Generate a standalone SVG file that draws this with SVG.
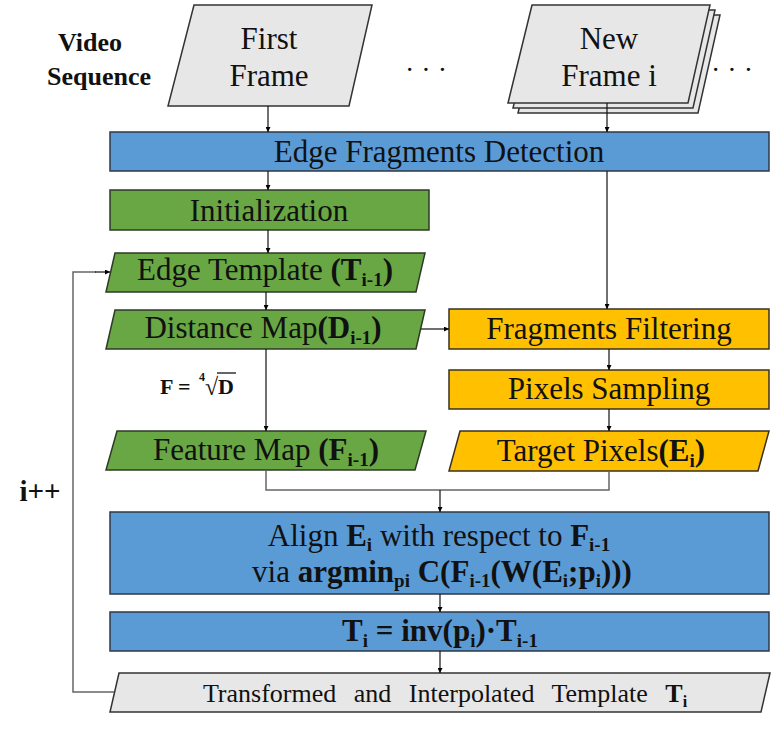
<svg xmlns="http://www.w3.org/2000/svg" width="777" height="733" viewBox="0 0 777 733">
<defs>
<marker id="ah" viewBox="0 0 10 10" refX="10" refY="5" markerWidth="5" markerHeight="5" orient="auto" markerUnits="userSpaceOnUse">
<path d="M0,0 L10,5 L0,10 z" fill="#000"/>
</marker>
<style>
text{fill:#111;font-family:'Liberation Serif',serif;}
.t{font-size:31px;text-anchor:middle;}
.b{font-weight:bold;}
.sub{font-size:19px;font-weight:bold;}
.blue{fill:#5B9BD5;stroke:#2E3A46;stroke-width:1.5;}
.green{fill:#68A744;stroke:#2E3A26;stroke-width:1.5;}
.orange{fill:#FFC000;stroke:#3A3020;stroke-width:1.5;}
.gray{fill:#E7E7E7;stroke:#333;stroke-width:1.5;}
.c{fill:none;stroke:#111;stroke-width:1.2;}
.cg{fill:none;stroke:#666;stroke-width:1.5;}
</style>
</defs>
<rect width="777" height="733" fill="#fff"/>

<g id="label-video">
<text x="90" y="51" class="b" style="font-size:26px;text-anchor:middle">Video</text>
<text x="99" y="85" class="b" style="font-size:26px;text-anchor:middle">Sequence</text>
</g>

<g id="first-frame">
<polygon class="gray" points="194,5 372,5 349,106 168,106"/>
<text x="269" y="49" class="t">First</text>
<text x="269" y="86" class="t">Frame</text>
</g>

<g id="dots">
<text x="426" y="79" class="t" style="font-size:28px">· · ·</text>
<text x="732" y="79" class="t" style="font-size:28px">· · ·</text>
</g>

<g id="new-frame">
<polygon class="gray" points="542,15 720,15 698,113 518,113"/>
<polygon class="gray" points="537,10 715,10 693,108 513,108"/>
<polygon class="gray" points="532,5 710,5 688,103 508,103"/>
<text x="609" y="49" class="t">New</text>
<text x="609" y="86" class="t">Frame i</text>
</g>

<g id="edge-fragments-detection">
<rect class="blue" x="110" y="132" width="659" height="39"/>
<text x="439" y="162" class="t">Edge Fragments Detection</text>
</g>

<g id="initialization">
<rect class="green" x="110" y="190" width="319" height="40"/>
<text x="269" y="221" class="t">Initialization</text>
</g>

<g id="edge-template">
<polygon class="green" points="115,253 425,253 416,292 106,292"/>
<text x="265" y="280" class="t">Edge Template <tspan class="b">(T</tspan><tspan class="sub" dy="6">i-1</tspan><tspan class="b" dy="-6">)</tspan></text>
</g>

<g id="distance-map">
<polygon class="green" points="115,310 425,310 416,349 106,349"/>
<text x="263" y="338" class="t">Distance Map<tspan class="b">(D</tspan><tspan class="sub" dy="6">i-1</tspan><tspan class="b" dy="-6">)</tspan></text>
</g>

<g id="fragments-filtering">
<rect class="orange" x="449" y="309" width="320" height="40"/>
<text x="609" y="339" class="t">Fragments Filtering</text>
</g>

<g id="pixels-sampling">
<rect class="orange" x="449" y="370" width="320" height="39"/>
<text x="609" y="399" class="t">Pixels Sampling</text>
</g>

<g id="formula">
<text x="160" y="394" class="b" style="font-size:22px">F =</text>
<text x="199" y="381" class="b" style="font-size:12px">4</text>
<text x="205" y="395" style="font-size:24px">√</text>
<line x1="217" y1="373" x2="236" y2="373" stroke="#111" stroke-width="1.3"/>
<text x="218" y="394" class="b" style="font-size:22px">D</text>
</g>

<g id="feature-map">
<polygon class="green" points="117,431 426,431 415,470 106,470"/>
<text x="266" y="460" class="t">Feature Map <tspan class="b">(F</tspan><tspan class="sub" dy="6">i-1</tspan><tspan class="b" dy="-6">)</tspan></text>
</g>

<g id="target-pixels">
<polygon class="orange" points="460,431 769,431 758,471 449,471"/>
<text x="601" y="461" class="t">Target Pixels<tspan class="b">(E</tspan><tspan class="sub" dy="6">i</tspan><tspan class="b" dy="-6">)</tspan></text>
</g>

<g id="label-iter">
<text x="40" y="501" class="b" style="font-size:29px;text-anchor:middle">i++</text>
</g>

<g id="align">
<rect class="blue" x="110" y="512" width="659" height="82"/>
<text x="439" y="546" class="t">Align <tspan class="b">E</tspan><tspan class="sub" dy="5">i</tspan><tspan dy="-5"> with respect to </tspan><tspan class="b">F</tspan><tspan class="sub" dy="5">i-1</tspan></text>
<text x="442" y="582" class="t">via <tspan class="b">argmin</tspan><tspan class="sub" dy="5">pi</tspan><tspan class="b" dy="-5">  C(F</tspan><tspan class="sub" dy="5">i-1</tspan><tspan class="b" dy="-5">(W(E</tspan><tspan class="sub" dy="5">i</tspan><tspan class="b" dy="-5">;p</tspan><tspan class="sub" dy="5">i</tspan><tspan class="b" dy="-5">)))</tspan></text>
</g>

<g id="transform">
<rect class="blue" x="110" y="612" width="659" height="39"/>
<text x="440" y="641" class="t b">T<tspan class="sub" dy="6">i</tspan><tspan dy="-6"> = inv(p</tspan><tspan class="sub" dy="6">i</tspan><tspan dy="-6">)·T</tspan><tspan class="sub" dy="6">i-1</tspan></text>
</g>

<g id="transformed-template">
<polygon class="gray" points="119,673 770,673 761,712 110,712"/>
<text x="445" y="702" style="font-size:26px;text-anchor:middle;word-spacing:11px">Transformed and Interpolated Template <tspan class="b">T</tspan><tspan class="sub" style="font-size:16px" dy="5">i</tspan></text>
</g>

<g id="connectors">
<line class="c" x1="268" y1="106" x2="268" y2="132" marker-end="url(#ah)"/>
<line class="c" x1="607" y1="103" x2="607" y2="132" marker-end="url(#ah)"/>
<line class="c" x1="268" y1="171" x2="268" y2="190" marker-end="url(#ah)"/>
<line class="c" x1="268" y1="230" x2="268" y2="253" marker-end="url(#ah)"/>
<line class="c" x1="266" y1="292" x2="266" y2="310" marker-end="url(#ah)"/>
<line class="c" x1="607" y1="171" x2="607" y2="309" marker-end="url(#ah)"/>
<line class="c" x1="421" y1="329" x2="449" y2="329" marker-end="url(#ah)"/>
<line class="c" x1="266" y1="349" x2="266" y2="431" marker-end="url(#ah)"/>
<line class="c" x1="609" y1="349" x2="609" y2="370" marker-end="url(#ah)"/>
<line class="c" x1="609" y1="409" x2="609" y2="431" marker-end="url(#ah)"/>
<polyline class="cg" points="266,470 266,490 609,490 609,471"/>
<line class="c" x1="440" y1="490" x2="440" y2="512" marker-end="url(#ah)"/>
<line class="c" x1="440" y1="594" x2="440" y2="612" marker-end="url(#ah)"/>
<line class="c" x1="440" y1="651" x2="440" y2="673" marker-end="url(#ah)"/>
<polyline class="cg" points="114,692 73,692 73,272 96,272"/>
<line class="c" x1="95" y1="272" x2="110" y2="272" marker-end="url(#ah)"/>
</g>
</svg>
